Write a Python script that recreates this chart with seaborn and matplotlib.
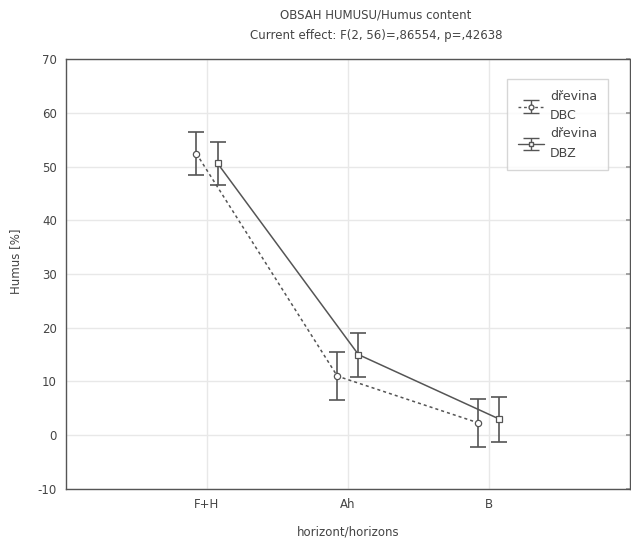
import numpy as np
import pandas as pd
import matplotlib
matplotlib.use("Agg")
import matplotlib.pyplot as plt
import seaborn as sns

categories = ["F+H", "Ah", "B"]
series = ["dřevina\nDBC", "dřevina\nDBZ"]
dbc_mean = [52.4, 11.0, 2.3]
dbc_err = [4.0, 4.4, 4.5]
dbz_mean = [50.6, 15.0, 3.0]
dbz_err = [4.0, 4.1, 4.2]
yticks = [-10, 0, 10, 20, 30, 40, 50, 60, 70]

sns.set_theme(style="white")
plt.rcParams["font.family"] = ["DejaVu Sans"]
plt.rcParams["axes.unicode_minus"] = False

df = pd.DataFrame({
    "horizont": categories * 2,
    "humus": dbc_mean + dbz_mean,
    "drevina": [series[0]] * 3 + [series[1]] * 3,
})

col = "#555555"
tcol = "#444444"
fs = 8.5
fig = plt.figure(figsize=(6.31, 5.39), dpi=100)
ax = fig.add_axes([0.1046, 0.0928, 0.8935, 0.7977])

sns.pointplot(data=df, x="horizont", y="humus", hue="drevina", order=categories,
              hue_order=series, dodge=0.15, markers=["o", "s"],
              linestyles=[(0, (2, 2)), "-"], palette=[col, col], errorbar=None,
              markersize=4.5, linewidth=1.1, ax=ax, legend=False)

for ln in ax.lines:
    ln.set_markerfacecolor("white")
    ln.set_markeredgecolor(col)
    ln.set_markeredgewidth(0.9)

off = 0.075
xpos = np.arange(len(categories))
handles = []
for means, errs, o, mk, ls in [(dbc_mean, dbc_err, -off, "o", (0, (2, 2))),
                               (dbz_mean, dbz_err, off, "s", "-")]:
    ax.errorbar(xpos + o, means, yerr=errs, fmt="none", ecolor=col,
                elinewidth=1.2, capsize=5.5, capthick=1.2, zorder=1)
    h = ax.errorbar([np.nan], [np.nan], yerr=[1], fmt=mk, linestyle=ls,
                    color=col, mfc="white", mec=col, ms=3.5, capsize=6,
                    elinewidth=1, capthick=1, lw=1)
    handles.append(h)

ax.set_xlim(-1, 3)
ax.set_ylim(-10, 70)
ax.set_yticks(yticks)
ax.set_xticks(xpos)
ax.set_xticklabels(categories)
ax.grid(True, color="#e8e8e8", linewidth=1)
ax.set_axisbelow(True)
for s in ax.spines.values():
    s.set_color("#555555")
    s.set_linewidth(1)
ax.tick_params(axis="both", direction="in", length=3, color="#999999",
               labelsize=fs, labelcolor=tcol, pad=6.5, right=True)
ax.set_xlabel("horizont/horizons", fontsize=fs, color=tcol)
ax.set_ylabel("Humus [%]", fontsize=fs, color=tcol)
ax.xaxis.set_label_coords(0.5, -0.084)
ax.yaxis.set_label_coords(-0.078, 0.53)

leg = ax.legend(handles, series, loc="upper left",
                bbox_to_anchor=(0.782, 0.953), borderaxespad=0, fontsize=9,
                frameon=True, fancybox=False, edgecolor="#cccccc",
                handlelength=2.1, labelspacing=0.4, borderpad=0.85,
                handletextpad=0.5, labelcolor=tcol)
for t in leg.get_texts():
    t.set_linespacing(1.65)
leg.get_frame().set_linewidth(1)

fig.text(0.596, 0.984, "OBSAH HUMUSU/Humus content\nCurrent effect: F(2, 56)=,86554, p=,42638",
         ha="center", va="top", fontsize=fs, color=tcol, linespacing=1.7)

fig.savefig("out.png", dpi=100)
